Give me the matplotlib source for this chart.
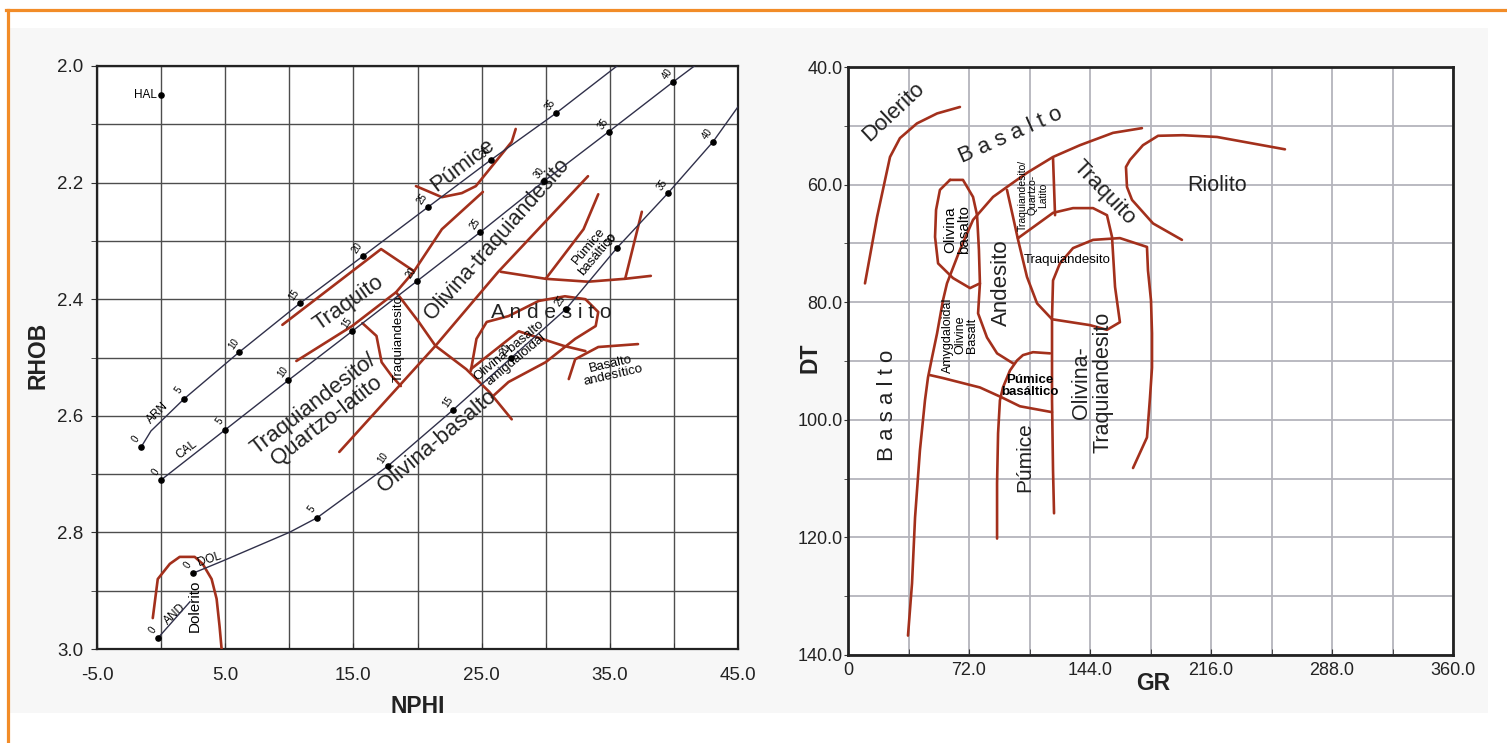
import matplotlib
matplotlib.use('Agg')
import matplotlib.pyplot as plt
from matplotlib.lines import Line2D
from matplotlib.patches import Rectangle
from matplotlib.ticker import MultipleLocator, FixedLocator

plt.rcParams['font.family'] = ['Liberation Sans', 'DejaVu Sans']
plt.rcParams['axes.unicode_minus'] = False

RED = '#a3301c'
REF = '#30304a'

# ---------------- left panel: NPHI x RHOB ----------------
# matrix reference lines (porosity scales)
arn_x = [-1.57, -0.79, 1.79, 6.08, 10.83, 15.75, 20.82, 25.73, 30.80, 35.56]
arn_y = [2.654, 2.626, 2.571, 2.491, 2.407, 2.326, 2.242, 2.161, 2.081, 2.0]
arn_dot_x = [-1.57, 1.79, 6.08, 10.83, 15.75, 20.82, 25.73, 30.80]
arn_dot_y = [2.654, 2.571, 2.491, 2.407, 2.326, 2.242, 2.161, 2.081]
arn_lab = ['0', '5', '10', '15', '20', '25', '30', '35']

cal_x = [0.0, 5.0, 9.93, 14.9, 19.96, 24.9, 29.9, 34.9, 39.9, 41.6]
cal_y = [2.71, 2.624, 2.539, 2.455, 2.369, 2.285, 2.197, 2.113, 2.028, 2.0]
cal_lab = ['0', '5', '10', '15', '20', '25', '30', '35', '40']

dol_x = [2.49, 4.8, 10.0, 12.16, 17.70, 22.77, 27.29, 31.58, 35.56, 39.54, 43.05, 45.0]
dol_y = [2.870, 2.849, 2.80, 2.775, 2.686, 2.590, 2.501, 2.417, 2.312, 2.218, 2.130, 2.07]
dol_dot_x = [2.49, 12.16, 17.70, 22.77, 27.29, 31.58, 35.56, 39.54, 43.05]
dol_dot_y = [2.870, 2.775, 2.686, 2.590, 2.501, 2.417, 2.312, 2.218, 2.130]
dol_lab = ['0', '5', '10', '15', '20', '25', '30', '35', '40']

and_x = [-0.24, 2.25]
and_y = [2.981, 2.919]
hal_x, hal_y = 0.0, 2.05

# lithology boundaries
pum_x = [19.88, 21.9, 23.46, 24.55, 27.35, 27.66]
pum_y = [2.206, 2.225, 2.218, 2.206, 2.130, 2.108]
traq_top_x = [9.46, 17.16, 19.73]
traq_top_y = [2.444, 2.314, 2.352]
traq_base_x = [10.55, 14.9, 18.33, 19.73, 21.9, 25.1]
traq_base_y = [2.506, 2.446, 2.388, 2.352, 2.280, 2.216]
diag_x = [18.33, 20.1, 21.4, 23.8, 25.6, 27.35]
diag_y = [2.388, 2.439, 2.480, 2.520, 2.559, 2.606]
tqa_left_x = [15.7, 16.8, 17.2, 18.0, 18.7]
tqa_left_y = [2.441, 2.463, 2.508, 2.532, 2.549]
long_x = [13.9, 18.56, 21.4, 26.3, 33.3]
long_y = [2.662, 2.549, 2.480, 2.353, 2.189]
pb_base_x = [26.5, 30.0, 33.3, 36.2, 38.2]
pb_base_y = [2.353, 2.365, 2.370, 2.365, 2.360]
pb_left_x = [30.0, 32.95, 34.1]
pb_left_y = [2.365, 2.280, 2.220]
pb_right_x = [36.2, 37.5]
pb_right_y = [2.365, 2.250]
and_loop_x = [24.16, 24.6, 25.4, 27.1, 29.45, 31.5, 33.1, 34.1, 33.9, 32.3, 30.0, 27.1, 25.8]
and_loop_y = [2.523, 2.468, 2.439, 2.429, 2.403, 2.395, 2.400, 2.422, 2.446, 2.468, 2.508, 2.542, 2.568]
amig_x = [24.16, 27.9, 29.7, 31.4, 33.1]
amig_y = [2.52, 2.455, 2.468, 2.480, 2.489]
basand_x = [31.8, 32.3, 34.1, 37.2]
basand_y = [2.537, 2.503, 2.482, 2.477]
dol_rock_x = [-0.65, -0.26, 0.68, 1.45, 2.62, 3.24, 3.94, 4.33, 4.56, 4.72]
dol_rock_y = [2.947, 2.880, 2.854, 2.842, 2.842, 2.854, 2.880, 2.914, 2.961, 3.0]

# ---------------- right panel: GR x DT ----------------
dolr_x = [10.1, 17.3, 25.0, 30.9, 41.0, 53.0, 66.6]
dolr_y = [76.8, 65.5, 55.3, 52.1, 49.6, 47.9, 46.8]
bas_x = [35.7, 38.1, 39.9, 42.8, 45.8, 47.6, 50.0, 53.0, 56.5, 58.9, 66.6, 74.4,
         86.3, 94.6, 106.5, 122.0, 138.0, 157.7, 174.9]
bas_y = [136.7, 127.8, 116.6, 105.2, 96.7, 92.8, 89.4, 85.3, 79.7, 76.8, 71.1, 66.0,
         62.1, 60.4, 58.0, 55.3, 53.3, 51.2, 50.4]
oval_x = [60.7, 68.4, 74.4, 76.8, 77.9, 78.5, 72.6, 62.5, 53.6, 51.8, 52.4, 54.7, 60.7]
oval_y = [59.2, 59.2, 62.1, 65.2, 71.1, 76.8, 77.6, 75.9, 73.4, 68.9, 64.3, 60.9, 59.2]
andl_x = [78.5, 77.4, 82.7, 88.7, 98.2]
andl_y = [76.8, 81.9, 86.0, 88.7, 90.4]
amyg_x = [48.8, 56.5, 78.5, 91.6, 102.3, 121.4]
amyg_y = [92.4, 92.9, 94.5, 96.2, 97.7, 98.7]
pumr_x = [88.7, 88.7, 89.3, 90.4, 92.2, 96.4, 100.6, 104.1, 110.1, 120.2]
pumr_y = [120.2, 110.8, 102.3, 96.7, 94.5, 91.6, 89.9, 89.0, 88.5, 88.7]
tqa_x = [94.6, 98.2, 101.2, 106.5, 112.5, 121.4, 144.0, 154.1, 161.8, 158.9,
         157.1, 154.1, 145.8, 133.9, 122.0, 101.2]
tqa_y = [60.9, 65.5, 69.4, 75.7, 80.2, 82.9, 83.9, 84.7, 83.4, 77.4,
         68.9, 65.2, 64.0, 64.0, 64.8, 69.1]
tql_x = [122.0, 123.2]
tql_y = [55.5, 65.2]
oltr_x = [122.6, 122.0, 121.4, 121.4, 122.0, 126.1, 133.9, 145.8, 161.8, 177.9,
          178.5, 180.3, 180.9, 180.9, 179.7, 177.9, 169.6]
oltr_y = [115.9, 108.6, 96.7, 82.7, 76.3, 73.4, 70.8, 69.4, 69.1, 70.6,
          74.6, 79.7, 85.3, 91.1, 96.2, 103.0, 108.2]
rio_x = [260.0, 219.6, 199.3, 184.5, 175.5, 167.8, 165.4, 166.0, 169.0, 181.5, 198.7]
rio_y = [54.0, 51.9, 51.6, 51.7, 53.3, 55.8, 57.0, 60.4, 62.6, 66.6, 69.4]

W, H = 1507, 743
fig = plt.figure(figsize=(W / 100, H / 100), dpi=100, facecolor='white')
fig.add_artist(Rectangle((10 / W, 1 - 713 / H), 1478 / W, 685 / H, transform=fig.transFigure,
                         facecolor='#f7f7f7', edgecolor='none', zorder=0))
fig.add_artist(Line2D([6 / W, 1.0], [1 - 9.5 / H, 1 - 9.5 / H], transform=fig.transFigure,
                      color='#f28c28', lw=2.3))
fig.add_artist(Line2D([7.5 / W, 7.5 / W], [0, 1 - 9.5 / H], transform=fig.transFigure,
                      color='#f28c28', lw=2.3))

ax1 = fig.add_axes([97 / W, 1 - 649 / H, 641 / W, 583 / H])
ax2 = fig.add_axes([848 / W, 1 - 655 / H, 605 / W, 588 / H])

# ---- left axes ----
ax1.set_facecolor('white')
ax1.set_xlim(-5, 45)
ax1.set_ylim(3.0, 2.0)
ax1.xaxis.set_major_locator(FixedLocator([-5, 5, 15, 25, 35, 45]))
ax1.xaxis.set_minor_locator(FixedLocator([0, 10, 20, 30, 40]))
ax1.yaxis.set_major_locator(MultipleLocator(0.2))
ax1.yaxis.set_minor_locator(MultipleLocator(0.1))
ax1.xaxis.set_major_formatter('{x:.1f}')
ax1.yaxis.set_major_formatter('{x:.1f}')
ax1.grid(which='both', color='#4d4d4d', lw=1.0, zorder=0)
ax1.set_axisbelow(True)
ax1.tick_params(axis='x', which='both', direction='in', length=4, pad=13, labelsize=13.5,
                color='#333', labelcolor='#222')
ax1.tick_params(axis='y', which='both', direction='out', length=4, pad=6, labelsize=13.5,
                color='#333', labelcolor='#222')
for s in ax1.spines.values():
    s.set_linewidth(1.6)
    s.set_color('#222')

for xs, ys in [(pum_x, pum_y), (traq_top_x, traq_top_y), (traq_base_x, traq_base_y),
               (diag_x, diag_y), (tqa_left_x, tqa_left_y), (long_x, long_y),
               (pb_base_x, pb_base_y), (pb_left_x, pb_left_y), (pb_right_x, pb_right_y),
               (and_loop_x, and_loop_y), (amig_x, amig_y), (basand_x, basand_y),
               (dol_rock_x, dol_rock_y)]:
    ax1.plot(xs, ys, color=RED, lw=1.9, zorder=3, solid_capstyle='round')

ax1.plot(arn_x, arn_y, color=REF, lw=1.0, zorder=4)
ax1.plot(cal_x, cal_y, color=REF, lw=1.0, zorder=4)
ax1.plot(dol_x, dol_y, color=REF, lw=1.0, zorder=4)
ax1.plot(and_x, and_y, color=REF, lw=1.0, zorder=4)
ax1.scatter(arn_dot_x, arn_dot_y, s=14, color='black', zorder=5)
ax1.scatter(cal_x[:-1], cal_y[:-1], s=14, color='black', zorder=5)
ax1.scatter(dol_dot_x, dol_dot_y, s=14, color='black', zorder=5)
ax1.scatter([and_x[0]], [and_y[0]], s=14, color='black', zorder=5)
ax1.scatter([hal_x], [hal_y], s=14, color='black', zorder=5)

for xs, ys, labs in [(arn_dot_x, arn_dot_y, arn_lab), (cal_x, cal_y, cal_lab),
                     (dol_dot_x, dol_dot_y, dol_lab)]:
    for x, y, t in zip(xs, ys, labs):
        ax1.annotate(t, (x, y), xytext=(-4, 6), textcoords='offset points',
                     ha='center', va='center', rotation=55, fontsize=7, zorder=6)
ax1.annotate('0', (and_x[0], and_y[0]), xytext=(-4, 6), textcoords='offset points',
             ha='center', va='center', rotation=55, fontsize=7)

ax1.annotate('HAL', (hal_x, hal_y), xytext=(-3, 0), textcoords='offset points',
             ha='right', va='center', fontsize=8.5)
ax1.text(-0.3, 2.595, 'ARN', rotation=45, fontsize=8.5, ha='center', va='center')
ax1.text(2.0, 2.659, 'CAL', rotation=37, fontsize=8.5, ha='center', va='center')
ax1.text(3.8, 2.847, 'DOL', rotation=18, fontsize=8.5, ha='center', va='center')
ax1.text(1.1, 2.94, 'AND', rotation=43, fontsize=8.5, ha='center', va='center')

big = 16
ax1.text(23.55, 2.17, 'Púmice', rotation=37, fontsize=big, ha='center', va='center', color='#222')
ax1.text(26.2, 2.298, 'Olivina-traquiandesito', rotation=48.5, fontsize=15.5,
         ha='center', va='center', color='#222')
ax1.text(14.6, 2.407, 'Traquito', rotation=35, fontsize=big, ha='center', va='center', color='#222')
ax1.text(12.4, 2.594, 'Traquiandesito/\nQuartzo-latito', rotation=37.5, fontsize=big,
         ha='center', va='center', linespacing=1.0, color='#222')
ax1.text(18.5, 2.467, 'Traquiandesito', rotation=90, fontsize=9.5, ha='center', va='center')
ax1.text(30.4, 2.422, 'A n d e s i t o', fontsize=15, ha='center', va='center', color='#222')
ax1.text(33.7, 2.316, 'Púmice\nbasáltico', rotation=50, fontsize=9.5, ha='center', va='center',
         linespacing=1.0)
ax1.text(27.4, 2.496, 'Olivina-basalto\namigdaloidal', rotation=40, fontsize=9.5,
         ha='center', va='center', linespacing=1.0)
ax1.text(35.2, 2.521, 'Basalto\nandesítico', rotation=13, fontsize=9.5, ha='center',
         va='center', linespacing=1.0)
ax1.text(21.5, 2.643, 'Olivina-basalto', rotation=40, fontsize=big, ha='center', va='center',
         color='#222')
ax1.text(2.64, 2.926, 'Dolerito', rotation=90, fontsize=11, ha='center', va='center')

ax1.text(0.5, -0.098, 'NPHI', transform=ax1.transAxes, fontsize=16.5, fontweight='bold',
         ha='center', va='center', color='#222')
ax1.text(-0.092, 0.504, 'RHOB', transform=ax1.transAxes, fontsize=16.5, fontweight='bold',
         ha='center', va='center', rotation=90, color='#222')

# ---- right axes ----
ax2.set_facecolor('white')
ax2.set_xlim(0, 360)
ax2.set_ylim(140, 40)
ax2.xaxis.set_major_locator(MultipleLocator(72))
ax2.xaxis.set_minor_locator(MultipleLocator(36))
ax2.yaxis.set_major_locator(MultipleLocator(20))
ax2.yaxis.set_minor_locator(MultipleLocator(10))
ax2.xaxis.set_major_formatter(lambda v, p: '0' if v == 0 else f'{v:.1f}')
ax2.yaxis.set_major_formatter('{x:.1f}')
ax2.grid(which='both', color='#b4b4bc', lw=1.3, zorder=0)
ax2.set_axisbelow(True)
ax2.tick_params(axis='x', which='both', direction='in', length=4, pad=5, labelsize=13,
                color='#333', labelcolor='#222')
ax2.tick_params(axis='y', which='both', direction='out', length=3, pad=1, labelsize=13,
                color='#333', labelcolor='#222')
for s in ax2.spines.values():
    s.set_linewidth(2.0)
    s.set_color('#222')

for xs, ys in [(dolr_x, dolr_y), (bas_x, bas_y), (oval_x, oval_y), (andl_x, andl_y),
               (amyg_x, amyg_y), (pumr_x, pumr_y), (tqa_x, tqa_y), (tql_x, tql_y),
               (oltr_x, oltr_y), (rio_x, rio_y)]:
    ax2.plot(xs, ys, color=RED, lw=1.9, zorder=3, solid_capstyle='round')

ax2.text(26.8, 47.7, 'Dolerito', rotation=43, fontsize=big, ha='center', va='center', color='#222')
ax2.text(97, 51.6, 'B a s a l t o', rotation=24, fontsize=big, ha='center', va='center', color='#222')
ax2.text(152.3, 61.4, 'Traquito', rotation=-46, fontsize=big, ha='center', va='center', color='#222')
ax2.text(219.6, 60.2, 'Riolito', fontsize=15.5, ha='center', va='center', color='#222')
ax2.text(64.9, 67.6, 'Olivina\nbasalto', rotation=90, fontsize=11, ha='center', va='center',
         linespacing=1.0)
ax2.text(110, 61.8, 'Traquiandesito/\nQuartzo-\nLatito', rotation=90, fontsize=7.5,
         ha='center', va='center', linespacing=1.0)
ax2.text(130.3, 72.8, 'Traquiandesito', fontsize=9.5, ha='center', va='center')
ax2.text(91.6, 76.7, 'Andesito', rotation=90, fontsize=big, ha='center', va='center', color='#222')
ax2.text(66.6, 85.6, 'Amygdaloidal\nOlivine\nBasalt', rotation=90, fontsize=9,
         ha='center', va='center', linespacing=1.0)
ax2.text(108.3, 94.3, 'Púmice\nbasáltico', fontsize=9.5, fontweight='bold', ha='center',
         va='center', linespacing=1.0)
ax2.text(105.3, 106.3, 'Púmice', rotation=90, fontsize=15, ha='center', va='center', color='#222')
ax2.text(145.2, 93.6, 'Olivina-\nTraquiandesito', rotation=90, fontsize=15.5, ha='center',
         va='center', linespacing=1.05, color='#222')
ax2.text(23.8, 97.5, 'B a s a l t o', rotation=90, fontsize=big, ha='center', va='center',
         color='#222')

ax2.text(0.504, -0.048, 'GR', transform=ax2.transAxes, fontsize=16.5, fontweight='bold',
         ha='center', va='center', color='#222')
ax2.text(-0.063, 0.505, 'DT', transform=ax2.transAxes, fontsize=16.5, fontweight='bold',
         ha='center', va='center', rotation=90, color='#222')

fig.savefig('out.png', dpi=100, facecolor=fig.get_facecolor())
